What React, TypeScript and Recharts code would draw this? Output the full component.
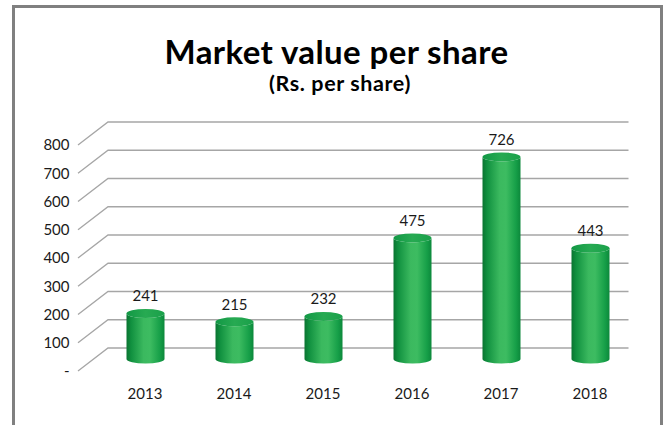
import React from "react";
import {
  ComposedChart,
  Bar,
  Line,
  XAxis,
  YAxis,
  CartesianGrid,
  LabelList,
} from "recharts";

const years = ["2013", "2014", "2015", "2016", "2017", "2018"];
const marketValue = [241, 215, 232, 475, 726, 443];
const axisTicks = [0, 100, 200, 300, 400, 500, 600, 700, 800];

const data = years.map((year, i) => ({ year, value: marketValue[i] }));

const FONT = "Lato, 'Open Sans', sans-serif";
const INK = "#1a1a1a";
const GRID = "#a6a6a6";

// depth offsets for the fake 3D look
const DEPTH_X = 30;
const DEPTH_Y = 23;
const BAR_LIFT = 12;

function PerspectiveLine(props: any) {
  const { x1, x2, y1 } = props;
  const fx = x1 - 22.5;
  const d = `M${fx},${y1} L${fx + DEPTH_X},${y1 - DEPTH_Y} L${x2 - 6},${y1 - DEPTH_Y}`;
  return <path d={d} fill="none" stroke={GRID} strokeWidth={1.3} />;
}

function Cylinder(props: any) {
  const { x, y, width, height } = props;
  if (!height || height <= 0) return null;
  const rx = width / 2;
  const ry = 4.5;
  const top = y - BAR_LIFT;
  const bottom = y + height - BAR_LIFT;
  const body = `M${x},${top} L${x},${bottom} A${rx},${ry} 0 0 0 ${x + width},${bottom} L${x + width},${top} A${rx},${ry} 0 0 1 ${x},${top} Z`;
  return (
    <g>
      <path d={body} fill="url(#cylBody)" />
      <ellipse cx={x + rx} cy={top} rx={rx} ry={ry} fill="url(#cylTop)" />
    </g>
  );
}

export default function App() {
  return (
    <div
      style={{
        position: "absolute",
        left: 0,
        top: 0,
        width: 666,
        height: 425,
        background: "#fff",
        overflow: "hidden",
      }}
    >
      <div
        style={{
          position: "absolute",
          left: 12,
          top: 5,
          width: 651,
          height: 440,
          border: "3px solid #808080",
          boxSizing: "border-box",
        }}
      />
      <div
        style={{
          position: "absolute",
          left: 0,
          top: 31.5,
          width: 673,
          textAlign: "center",
          fontFamily: FONT,
          fontWeight: 700,
          fontSize: 33,
          letterSpacing: 0.4,
          lineHeight: "38px",
          color: "#000",
        }}
      >
        Market value per share
      </div>
      <div
        style={{
          position: "absolute",
          left: 0,
          top: 69.5,
          width: 680,
          textAlign: "center",
          fontFamily: FONT,
          fontWeight: 700,
          fontSize: 21.5,
          letterSpacing: 0.6,
          lineHeight: "26px",
          color: "#000",
        }}
      >
        (Rs. per share)
      </div>
      <div style={{ position: "absolute", left: 0, top: 0 }}>
        <ComposedChart
          width={666}
          height={425}
          data={data}
          margin={{ top: 145, right: 31.5, bottom: 24, left: 0 }}
          barSize={38}
        >
          <defs>
            <linearGradient id="cylBody" x1="0" y1="0" x2="1" y2="0">
              <stop offset="0%" stopColor="#0a7431" />
              <stop offset="12%" stopColor="#10903f" />
              <stop offset="45%" stopColor="#3bb95f" />
              <stop offset="62%" stopColor="#3dbc61" />
              <stop offset="88%" stopColor="#169f48" />
              <stop offset="100%" stopColor="#0c883b" />
            </linearGradient>
            <linearGradient id="cylTop" x1="0" y1="0" x2="1" y2="0">
              <stop offset="0%" stopColor="#129845" />
              <stop offset="50%" stopColor="#27aa52" />
              <stop offset="100%" stopColor="#1aa04a" />
            </linearGradient>
          </defs>
          <CartesianGrid
            vertical={false}
            horizontal={PerspectiveLine}
            yAxisId="scale"
          />
          <XAxis
            dataKey="year"
            axisLine={false}
            tickLine={false}
            tickSize={0}
            tickMargin={17}
            height={30}
            tick={{ fill: INK, fontSize: 15, fontFamily: FONT }}
          />
          <YAxis
            yAxisId="scale"
            domain={[0, 800]}
            ticks={axisTicks}
            width={100.5}
            axisLine={false}
            tickLine={false}
            tickSize={0}
            tickMargin={31}
            interval={0}
            tickFormatter={(v: number) => (v === 0 ? "-" : String(v))}
            tick={{ fill: INK, fontSize: 15, fontFamily: FONT }}
          />
          <YAxis
            yAxisId="bar"
            domain={[100, 800]}
            width={0}
            hide
            allowDataOverflow
          />
          <Line
            yAxisId="scale"
            dataKey="value"
            stroke="none"
            dot={false}
            activeDot={false}
            legendType="none"
            isAnimationActive={false}
          />
          <Bar
            yAxisId="bar"
            dataKey="value"
            shape={Cylinder}
            isAnimationActive={false}
          >
            <LabelList
              dataKey="value"
              position="top"
              offset={24}
              fill={INK}
              fontSize={15}
              fontFamily={FONT}
            />
          </Bar>
        </ComposedChart>
      </div>
    </div>
  );
}
